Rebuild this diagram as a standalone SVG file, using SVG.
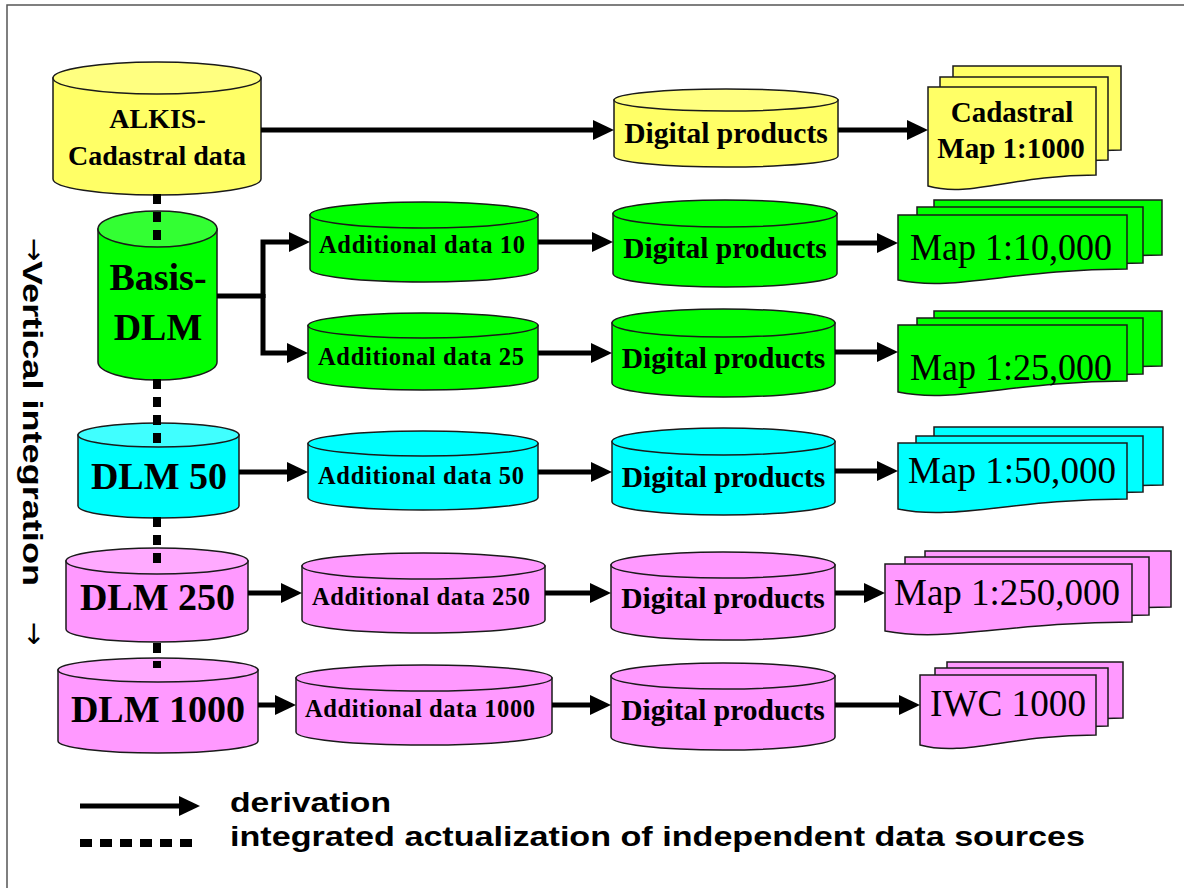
<svg xmlns="http://www.w3.org/2000/svg" width="1184" height="888" viewBox="0 0 1184 888">
<style>
.cyl{stroke:#1a1a1a;stroke-width:1.5}
.y{fill:#FFFF66}.yt{fill:#FFFF80}
.g{fill:#00FF00}.gt{fill:#33FF33}
.c{fill:#00FFFF}.ct{fill:#40FFFF}
.p{fill:#FF99FF}.pt{fill:#FFAAFF}
.pg{stroke:#1a1a1a;stroke-width:1.5}
.b{font-family:"Liberation Serif","Times New Roman",serif;font-weight:bold;text-anchor:middle;fill:#000}
.r{font-family:"Liberation Serif","Times New Roman",serif;font-weight:normal;text-anchor:middle;fill:#000}
.s{font-family:"Liberation Sans",Arial,sans-serif;font-weight:bold;fill:#000}
.va{font-family:"DejaVu Sans",sans-serif;font-weight:normal;font-size:28px;fill:#000}
.arr{fill:none;stroke:#000;stroke-width:5;marker-end:url(#ah)}
.ln{fill:none;stroke:#000;stroke-width:5}
.dot{fill:none;stroke:#000;stroke-width:8;stroke-dasharray:10 8}
</style>
<defs>
<marker id="ah" markerUnits="userSpaceOnUse" markerWidth="21" markerHeight="20" refX="1" refY="10" orient="auto">
<path d="M0,0 L21,10 L0,20 Z" fill="#000"/>
</marker>
</defs>
<rect width="1184" height="888" fill="#fff"/>
<path d="M7,888 V5 H1184" fill="none" stroke="#555" stroke-width="1.5"/>

<g id="alkis">
<path class="cyl y" d="M53,78 V179 A104,16 0 0 0 261,179 V78 Z"/>
<ellipse class="cyl yt" cx="157" cy="78" rx="104" ry="16"/>
<text class="b" x="157.5" y="128" font-size="28">ALKIS-</text>
<text class="b" x="157" y="165" font-size="28">Cadastral data</text>
</g>
<g id="dp-yellow">
<path class="cyl y" d="M614,100 V156 A112,11 0 0 0 838,156 V100 Z"/>
<ellipse class="cyl yt" cx="726" cy="100" rx="112" ry="11"/>
<text class="b" x="726" y="143" font-size="29.5">Digital products</text>
</g>
<g id="map-cadastral">
<path class="pg y" d="M953,66 H1121 V150 C1037,150 995,173 953,161 Z"/>
<path class="pg y" d="M940,77 H1108 V160 C1024,160 982,183 940,171 Z"/>
<path class="pg y" d="M928,87 H1096 V175 C1012,175 970,198 928,186 Z"/>
<text class="b" x="1012" y="122" font-size="29">Cadastral</text>
<text class="b" x="1011" y="158" font-size="29">Map 1:1000</text>
</g>

<g id="basis-dlm">
<path class="cyl g" d="M98,229 V362 A59.5,18 0 0 0 217,362 V229 Z"/>
<ellipse class="cyl gt" cx="157.5" cy="229" rx="59.5" ry="18"/>
<text class="b" x="158" y="290" font-size="38">Basis-</text>
<text class="b" x="158" y="340" font-size="38">DLM</text>
</g>
<g id="add10">
<path class="cyl g" d="M310,215 V269 A114,13 0 0 0 538,269 V215 Z"/>
<ellipse class="cyl g" cx="424" cy="215" rx="114" ry="13"/>
<text class="b" x="422" y="253" font-size="24.5" textLength="206" lengthAdjust="spacing">Additional data 10</text>
</g>
<g id="dp-green10">
<path class="cyl g" d="M613,213.5 V273.5 A112,13.5 0 0 0 837,273.5 V213.5 Z"/>
<ellipse class="cyl g" cx="725" cy="213.5" rx="112" ry="13.5"/>
<text class="b" x="725" y="258" font-size="29.5">Digital products</text>
</g>
<g id="map10k">
<path class="pg g" d="M934,200 H1162 V255 C1048,255 991,278 934,266 Z"/>
<path class="pg g" d="M917,207 H1143 V263 C1030,263 973.5,286 917,274 Z"/>
<path class="pg g" d="M898,215 H1127 V269 C1012.5,269 955,292 898,280 Z"/>
<text class="r" x="1011" y="260" font-size="37" textLength="202" lengthAdjust="spacingAndGlyphs">Map 1:10,000</text>
</g>
<g id="add25">
<path class="cyl g" d="M308,325.5 V377.5 A115,12.5 0 0 0 538,377.5 V325.5 Z"/>
<ellipse class="cyl g" cx="423" cy="325.5" rx="115" ry="12.5"/>
<text class="b" x="421" y="365" font-size="24.5" textLength="206" lengthAdjust="spacing">Additional data 25</text>
</g>
<g id="dp-green25">
<path class="cyl g" d="M612,323 V383 A111.5,14 0 0 0 835,383 V323 Z"/>
<ellipse class="cyl g" cx="723.5" cy="323" rx="111.5" ry="14"/>
<text class="b" x="723.5" y="368" font-size="29.5">Digital products</text>
</g>
<g id="map25k">
<path class="pg g" d="M934,311 H1162 V366 C1048,366 991,389 934,377 Z"/>
<path class="pg g" d="M917,318 H1143 V374 C1030,374 973.5,397 917,385 Z"/>
<path class="pg g" d="M898,325 H1127 V381 C1012.5,381 955,404 898,392 Z"/>
<text class="r" x="1011" y="380" font-size="37" textLength="202" lengthAdjust="spacingAndGlyphs">Map 1:25,000</text>
</g>

<g id="dlm50">
<path class="cyl c" d="M78,435 V506 A80.5,12 0 0 0 239,506 V435 Z"/>
<ellipse class="cyl ct" cx="158.5" cy="435" rx="80.5" ry="12"/>
<text class="b" x="159" y="489" font-size="38">DLM 50</text>
</g>
<g id="add50">
<path class="cyl c" d="M308,443.5 V497.5 A115,12.5 0 0 0 538,497.5 V443.5 Z"/>
<ellipse class="cyl c" cx="423" cy="443.5" rx="115" ry="12.5"/>
<text class="b" x="421" y="484" font-size="24.5" textLength="206" lengthAdjust="spacing">Additional data 50</text>
</g>
<g id="dp-cyan">
<path class="cyl c" d="M612,441.5 V501.5 A111.5,13.5 0 0 0 835,501.5 V441.5 Z"/>
<ellipse class="cyl c" cx="723.5" cy="441.5" rx="111.5" ry="13.5"/>
<text class="b" x="723.5" y="487" font-size="29.5">Digital products</text>
</g>
<g id="map50k">
<path class="pg c" d="M934,427 H1163 V485 C1048.5,485 991,507 934,495 Z"/>
<path class="pg c" d="M916,436 H1143 V492 C1029.5,492 973,514 916,502 Z"/>
<path class="pg c" d="M898,443 H1127 V499 C1012.5,499 955,521 898,509 Z"/>
<text class="r" x="1012" y="483" font-size="37" textLength="208" lengthAdjust="spacingAndGlyphs">Map 1:50,000</text>
</g>

<g id="dlm250">
<path class="cyl p" d="M66,561 V629 A91,13 0 0 0 248,629 V561 Z"/>
<ellipse class="cyl pt" cx="157" cy="561" rx="91" ry="13"/>
<text class="b" x="157.5" y="610" font-size="38">DLM 250</text>
</g>
<g id="add250">
<path class="cyl p" d="M302,566 V620 A121.5,13 0 0 0 545,620 V566 Z"/>
<ellipse class="cyl p" cx="423.5" cy="566" rx="121.5" ry="13"/>
<text class="b" x="421" y="605" font-size="24.5" textLength="218" lengthAdjust="spacing">Additional data 250</text>
</g>
<g id="dp-pink250">
<path class="cyl p" d="M611,565 V627 A112,13 0 0 0 835,627 V565 Z"/>
<ellipse class="cyl p" cx="723" cy="565" rx="112" ry="13"/>
<text class="b" x="723" y="608" font-size="29.5">Digital products</text>
</g>
<g id="map250k">
<path class="pg p" d="M925,551 H1171 V607 C1048,607 986.5,628 925,616 Z"/>
<path class="pg p" d="M905,557 H1149 V615 C1027,615 966,636 905,624 Z"/>
<path class="pg p" d="M885,564 H1132 V622 C1008.5,622 947,643 885,631 Z"/>
<text class="r" x="1007" y="605" font-size="37" textLength="226" lengthAdjust="spacingAndGlyphs">Map 1:250,000</text>
</g>

<g id="dlm1000">
<path class="cyl p" d="M58,670 V741 A100,12 0 0 0 258,741 V670 Z"/>
<ellipse class="cyl pt" cx="158" cy="670" rx="100" ry="12"/>
<text class="b" x="158" y="722" font-size="38">DLM 1000</text>
</g>
<g id="add1000">
<path class="cyl p" d="M296,678 V732 A128,13 0 0 0 552,732 V678 Z"/>
<ellipse class="cyl p" cx="424" cy="678" rx="128" ry="13"/>
<text class="b" x="420" y="717" font-size="24.5" textLength="230" lengthAdjust="spacing">Additional data 1000</text>
</g>
<g id="dp-pink1000">
<path class="cyl p" d="M611,676 V737 A112,13 0 0 0 835,737 V676 Z"/>
<ellipse class="cyl p" cx="723" cy="676" rx="112" ry="13"/>
<text class="b" x="723" y="720" font-size="29.5">Digital products</text>
</g>
<g id="iwc1000">
<path class="pg p" d="M947,662 H1123 V718 C1035,718 991,740 947,728 Z"/>
<path class="pg p" d="M935,668 H1108 V726 C1021.5,726 978,748 935,736 Z"/>
<path class="pg p" d="M920,675 H1096 V735 C1008,735 964,757 920,745 Z"/>
<text class="r" x="1008" y="716" font-size="37" textLength="156" lengthAdjust="spacingAndGlyphs">IWC 1000</text>
</g>

<g id="connectors">
<path class="arr" d="M261,130 H594"/>
<path class="arr" d="M838,130 H908"/>
<path class="ln" d="M217,296 H263"/>
<path class="arr" d="M263,298 V242 H290"/>
<path class="arr" d="M263,294 V353 H288"/>
<path class="arr" d="M538,242 H593"/>
<path class="arr" d="M837,243 H878"/>
<path class="arr" d="M538,353 H592"/>
<path class="arr" d="M835,352 H878"/>
<path class="arr" d="M239,472 H288"/>
<path class="arr" d="M538,472 H592"/>
<path class="arr" d="M835,471 H878"/>
<path class="arr" d="M248,593 H282"/>
<path class="arr" d="M545,593 H591"/>
<path class="arr" d="M835,593 H865"/>
<path class="arr" d="M258,705 H276"/>
<path class="arr" d="M552,705 H591"/>
<path class="arr" d="M835,705 H900"/>
<path class="dot" d="M157,194 V243"/>
<path class="dot" d="M157,379 V448"/>
<path class="dot" d="M157,517 V566"/>
<path class="dot" d="M157,643 V668"/>
</g>

<g id="vertical-label">
<text class="va" transform="translate(25,238) rotate(90)">→</text>
<text class="s" font-size="27" transform="translate(23,261) rotate(90)" textLength="325" lengthAdjust="spacingAndGlyphs">Vertical integration</text>
<text class="va" transform="translate(25,622) rotate(90)">→</text>
</g>

<g id="legend">
<path class="arr" d="M80,806 H180"/>
<text class="s" x="230" y="812" font-size="27" textLength="161" lengthAdjust="spacingAndGlyphs">derivation</text>
<path fill="none" stroke="#000" stroke-width="8" stroke-dasharray="12 8" d="M80,843 H198"/>
<text class="s" x="230" y="846" font-size="27" textLength="855" lengthAdjust="spacingAndGlyphs">integrated actualization of independent data sources</text>
</g>
</svg>
